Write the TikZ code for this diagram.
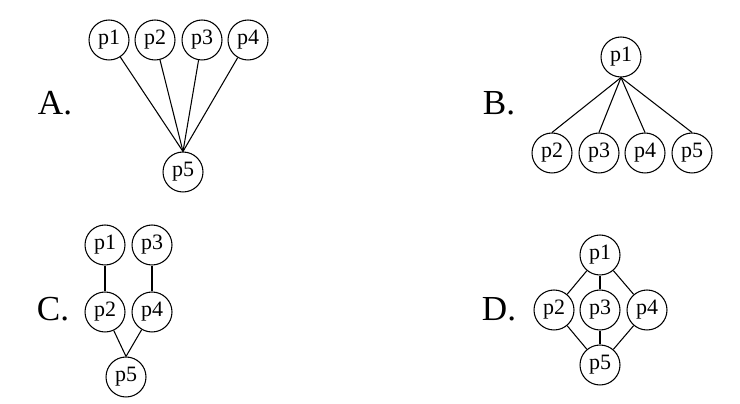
\documentclass[tikz,border=0pt]{standalone}
\usepackage{fontspec}
\setmainfont{Liberation Serif}
\begin{document}
\begin{tikzpicture}[x=0.02cm,y=-0.02cm,line width=0.6pt,
	proc/.style={draw,circle,minimum size=0.8cm,inner sep=0pt,font=\fontsize{12.5}{14}\selectfont},
	lab/.style={font=\fontsize{20}{24}\selectfont}]
	\useasboundingbox (0,0) rectangle (740,404);
	% A
	\node[lab] (la) at (55,103){A.};
	\node[proc] (a1) at (109,40){p1};
	\node[proc] (a2) at (155,40){p2};
	\node[proc] (a3) at (202,40){p3};
	\node[proc] (a4) at (248,40){p4};
	\node[proc] (a5) at (183,172){p5};
	\foreach \i in {1,2,3,4} \draw (a\i)--(a5.north);
	% B
	\node[lab] (lb) at (499,103){B.};
	\node[proc] (b1) at (621,57){p1};
	\node[proc] (b2) at (552,153){p2};
	\node[proc] (b3) at (599,153){p3};
	\node[proc] (b4) at (645,153){p4};
	\node[proc] (b5) at (692,153){p5};
	\foreach \i in {2,3,4,5} \draw (b1.south)--(b\i.north);
	% C
	\node[lab] (lc) at (53,309){C.};
	\node[proc] (c1) at (105,245){p1};
	\node[proc] (c3) at (152,245){p3};
	\node[proc] (c2) at (105,312){p2};
	\node[proc] (c4) at (152,312){p4};
	\node[proc] (c5) at (126,377){p5};
	\draw (c1)--(c2) (c3)--(c4);
	\draw (c2)--(c5.north) (c4)--(c5.north);
	% D
	\node[lab] (ld) at (499,309){D.};
	\node[proc] (d1) at (600,255){p1};
	\node[proc] (d2) at (554,310){p2};
	\node[proc] (d3) at (600,310){p3};
	\node[proc] (d4) at (647,310){p4};
	\node[proc] (d5) at (600,365){p5};
	\foreach \i in {2,3,4} \draw (d1)--(d\i) (d\i)--(d5);
\end{tikzpicture}
\end{document}
